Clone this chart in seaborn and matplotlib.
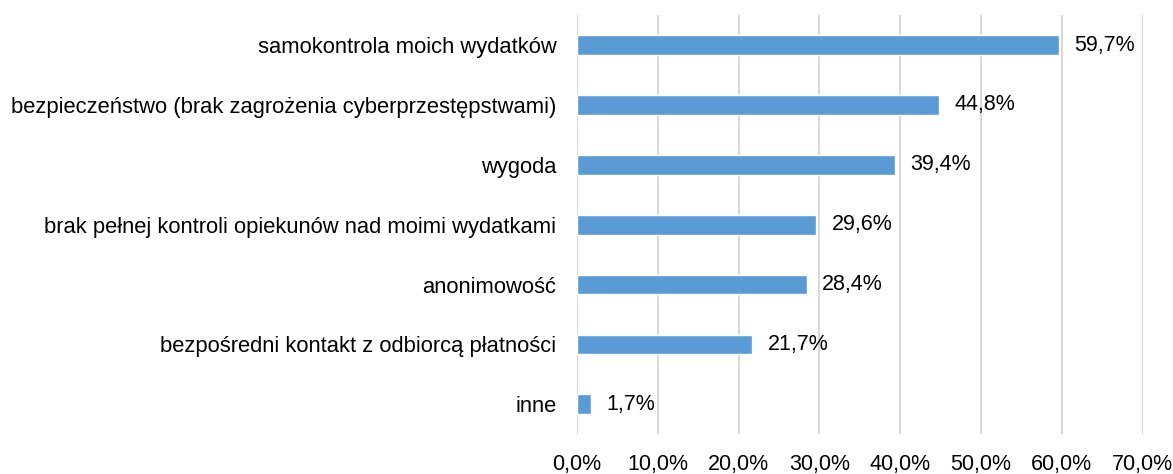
import pandas as pd
import matplotlib.pyplot as plt
import seaborn as sns

# data (percent)
categories = [
    "samokontrola moich wydatków",
    "bezpieczeństwo (brak zagrożenia cyberprzestępstwami)",
    "wygoda",
    "brak pełnej kontroli opiekunów nad moimi wydatkami",
    "anonimowość",
    "bezpośredni kontakt z odbiorcą płatności",
    "inne",
]
values = [59.7, 44.8, 39.4, 29.6, 28.4, 21.7, 1.7]
x_ticks = [0, 10, 20, 30, 40, 50, 60, 70]

df = pd.DataFrame({"kategoria": categories, "procent": values})

sns.set_style("white")
plt.rcParams["font.family"] = ["Liberation Sans", "DejaVu Sans"]
plt.rcParams["text.color"] = "black"
plt.rcParams["xtick.color"] = "black"
plt.rcParams["ytick.color"] = "black"

fig = plt.figure(figsize=(11.73, 4.74), dpi=100)
ax = fig.add_axes([0.492, 0.084, 0.482, 0.884])

sns.barplot(data=df, x="procent", y="kategoria", orient="h",
            color="#5B9BD5", width=0.33, saturation=1, ax=ax)

for i, v in enumerate(values):
    ax.text(v + 1.9, i, f"{v:.1f}%".replace(".", ","), va="center",
            ha="left", fontsize=15.5, color="black")

ax.set_xlim(0, 70)
ax.set_xticks(x_ticks)
ax.set_xticklabels([f"{t:.1f}%".replace(".", ",") for t in x_ticks], fontsize=15.5)
ax.tick_params(axis="y", labelsize=15.8, length=0, pad=15, labelcolor="black")
ax.tick_params(axis="x", length=0, pad=14, labelcolor="black")
ax.set_xlabel("")
ax.set_ylabel("")
ax.grid(axis="x", color="#D9D9D9", linewidth=1.5)
ax.set_axisbelow(True)
for s in ax.spines.values():
    s.set_visible(False)

plt.savefig("out.png", dpi=100)
